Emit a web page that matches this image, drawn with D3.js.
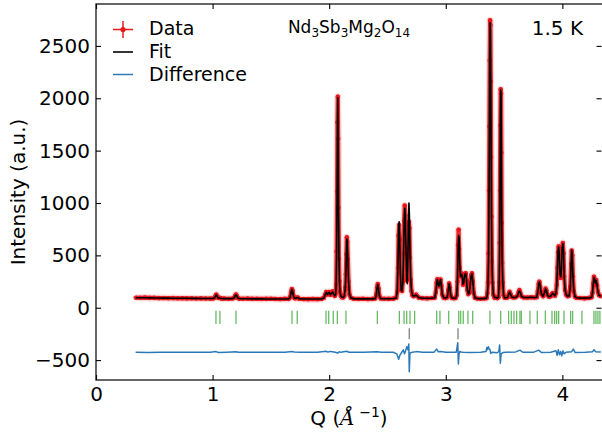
<!DOCTYPE html>
<html>
<head>
<meta charset="utf-8">
<script src="https://cdn.jsdelivr.net/npm/d3@7"></script>
<style>
  body { margin: 0; background: #fff; }
  svg { display: block; font-family: "DejaVu Sans", sans-serif; }
</style>
</head>
<body>
<svg id="chart" width="602" height="435"></svg>
<script>
// Q grid (1/Angstrom) of the measured points
var qValues = [
  0.34,0.38,0.42,0.46,0.50,0.54,0.58,0.62,0.66,0.70,0.74,0.78,0.82,0.86,0.90,0.94,0.98,
  1.005,1.018,1.026,1.032,1.039,1.048,1.058,1.066,1.078,
  1.10,1.14,1.17,
  1.185,1.194,1.201,1.208,1.216,1.228,
  1.26,1.30,1.34,1.38,1.42,1.46,1.50,1.54,1.58,1.62,
  1.652,1.665,1.673,1.680,1.686,1.693,1.702,1.712,1.722,1.731,1.742,
  1.78,1.82,1.86,1.90,1.935,
  1.955,1.965,1.975,1.985,1.993,2.001,2.010,2.020,2.030,2.040,2.048,
  2.055,2.060,2.064,2.068,2.071,2.074,2.077,2.080,2.084,2.088,2.093,2.100,2.110,2.120,
  2.130,2.138,2.143,2.147,2.151,2.155,2.160,2.166,2.174,2.186,
  2.21,2.25,2.29,2.33,2.37,
  2.395,2.404,2.411,2.417,2.423,2.430,2.442,
  2.47,2.51,2.55,
  2.575,2.584,2.590,2.595,2.600,2.605,2.611,2.618,2.625,2.632,2.638,2.643,2.648,2.653,2.659,
  2.665,2.670,2.675,2.680,2.684,2.688,2.693,2.699,2.706,2.714,2.724,2.735,2.745,2.756,2.770,
  2.80,2.84,2.88,
  2.905,2.915,2.922,2.928,2.934,2.941,2.948,2.955,2.962,2.970,2.982,
  2.995,
  3.012,3.022,3.029,3.035,3.042,3.052,
  3.07,3.085,
  3.094,3.100,3.105,3.110,3.115,3.120,3.126,3.131,3.136,3.142,3.148,3.154,3.160,3.166,3.172,
  3.178,3.185,3.193,3.202,3.210,3.218,3.225,3.232,3.240,3.250,
  3.27,3.30,3.33,
  3.350,3.357,3.362,3.367,3.371,3.374,3.377,3.380,3.383,3.386,3.389,3.392,3.396,3.401,3.408,3.418,3.430,3.442,
  3.452,3.458,3.462,3.465,3.468,3.471,3.474,3.477,3.480,3.484,3.489,3.496,3.505,3.515,
  3.530,3.540,3.547,3.555,3.565,3.58,3.60,3.615,3.625,3.632,3.640,3.650,3.67,3.70,3.73,3.76,
  3.780,3.790,3.797,3.803,3.810,3.820,3.835,3.848,3.856,3.863,3.872,3.885,3.900,3.910,3.918,3.926,3.936,
  3.945,3.952,3.958,3.963,3.968,3.973,3.979,3.986,3.992,3.998,4.004,4.010,4.016,4.023,4.032,4.045,
  4.058,4.068,4.075,4.080,4.085,4.091,4.098,4.108,4.12,
  4.15,4.19,4.23,4.25,
  4.258,4.265,4.271,4.277,4.283,4.290,4.297,4.305,4.315,4.330
];

// observed intensity (a.u.)
var observed = [
  96,95,97,94,94,92,93,91,92,90,91,89,90,88,89,88,87,
  88,96,116,125,110,94,96,92,87,
  88,86,88,
  95,117,127,112,93,87,
  86,87,85,86,84,85,86,84,83,85,
  84,100,150,178,165,115,92,90,96,98,86,
  83,82,84,82,85,
  95,125,150,128,135,150,122,135,156,125,112,
  130,220,540,1110,1770,2015,1615,955,465,255,150,112,100,98,
  112,190,320,510,672,630,465,250,125,95,
  86,84,86,83,85,
  88,125,195,226,185,115,88,
  86,85,87,
  95,150,380,690,790,650,330,170,160,250,520,830,975,880,520,
  260,270,560,790,820,760,480,270,160,120,110,115,125,110,95,
  92,90,93,
  96,150,240,272,225,205,245,270,210,125,96,
  92,
  98,170,232,195,120,94,
  90,94,
  120,250,600,745,560,380,300,300,328,290,220,240,300,325,328,
  260,170,130,140,230,310,328,250,140,95,
  88,86,88,
  92,140,240,520,1120,1730,2360,2745,2700,2160,1440,870,440,240,125,96,100,92,
  100,240,620,1120,1740,2085,2045,1480,810,430,240,120,95,96,
  98,130,152,130,102,98,100,115,150,168,140,108,98,97,100,98,
  100,160,230,248,200,130,110,150,182,165,120,105,110,130,140,125,115,
  140,220,380,530,585,500,330,285,380,560,618,520,300,170,125,110,
  115,200,420,545,500,300,160,105,95,
  93,90,94,100,
  140,230,296,270,230,265,215,150,120,110
];

// calculated (fit) intensity on the same grid
var calculated = [
  95,95,95,94,93,93,92,92,91,91,90,90,89,89,88,88,88,
  88,95,114,123,108,93,94,91,88,
  87,87,87,
  94,115,124,110,92,87,
  86,86,85,85,85,84,84,84,84,84,
  84,98,145,176,160,112,92,91,95,96,87,
  83,83,83,83,84,
  93,122,146,126,138,148,124,138,150,128,114,
  128,215,520,1090,1760,2005,1640,970,480,262,152,114,101,99,
  110,185,312,500,655,640,470,255,128,96,
  85,85,85,85,85,
  87,122,190,222,182,113,87,
  86,86,86,
  93,160,420,740,820,640,320,165,158,240,505,810,950,870,540,
  270,230,480,860,1000,880,530,280,165,122,110,114,122,110,96,
  91,91,91,
  95,148,230,268,228,208,242,268,212,128,96,
  93,
  97,165,228,198,122,94,
  91,93,
  118,240,510,690,670,420,305,300,320,292,225,238,298,322,326,
  262,172,132,142,228,305,325,252,142,96,
  87,87,87,
  92,130,210,480,1080,1740,2390,2720,2650,2180,1470,890,450,245,127,97,98,92,
  100,230,560,1080,1800,2080,2030,1490,830,440,242,122,96,96,
  98,128,150,132,103,98,99,113,148,160,142,108,98,98,99,98,
  100,155,225,246,205,132,110,148,180,167,122,105,110,128,138,127,116,
  138,215,390,545,580,520,320,295,370,570,610,530,290,175,125,110,
  114,195,410,550,505,290,170,106,96,
  92,92,93,98,
  135,225,290,272,235,260,218,152,118,108
];

// difference curve (shifted)
var diffQ = [
  0.34,0.45,0.55,0.70,0.85,0.98,1.03,1.05,1.12,1.20,1.22,1.35,1.50,1.62,1.68,1.70,1.75,1.90,
  1.975,1.99,2.005,2.03,2.06,2.072,2.085,2.10,2.15,2.17,2.30,2.41,2.45,2.55,
  2.58,2.596,2.607,2.62,2.636,2.646,2.655,2.666,2.676,2.683,2.687,2.693,2.71,2.75,2.80,2.90,
  2.922,2.935,2.955,3.00,3.09,3.103,3.108,3.114,3.12,3.13,3.15,3.20,3.30,
  3.345,3.352,3.358,3.365,3.372,3.38,3.386,3.40,3.44,3.455,3.462,3.468,3.475,3.49,3.52,
  3.60,3.636,3.66,3.75,3.797,3.82,3.90,3.945,3.955,3.965,3.975,3.985,3.995,4.005,4.015,4.03,
  4.08,4.094,4.11,4.20,4.26,4.271,4.285,4.33
];
var diffI = [
  -425,-427,-424,-426,-424,-426,-419,-427,-425,-421,-426,-424,-426,-425,-417,-423,-426,-425,
  -416,-424,-417,-420,-427,-434,-421,-426,-415,-425,-426,-421,-426,-425,
  -440,-492,-452,-430,-402,-440,-412,-372,-400,-346,-611,-432,-426,-419,-426,-424,
  -395,-420,-418,-426,-425,-334,-537,-440,-418,-423,-426,-427,-425,
  -418,-380,-400,-372,-392,-402,-436,-424,-430,-418,-355,-530,-440,-428,-425,
  -422,-405,-425,-426,-405,-428,-425,-410,-455,-402,-448,-418,-460,-412,-440,-426,
  -420,-395,-428,-426,-420,-400,-420,-423
];

// reflection positions (main phase, green) and second phase (grey)
var braggQ = [
  1.029,1.063,1.201,1.681,1.726,
  1.973,1.996,2.035,2.070,2.144,2.413,2.602,2.642,2.665,2.693,2.733,
  2.922,2.950,3.025,3.111,3.128,3.150,3.190,3.231,3.379,3.471,
  3.539,3.562,3.585,3.608,3.636,3.648,3.722,3.785,3.854,3.911,3.934,3.951,3.968,
  4.014,4.071,4.088,4.168,4.271,4.288,4.305,4.322
];
var braggQ2 = [2.687, 3.105];

var xTicks = [0, 1, 2, 3, 4];
var yTicks = [-500, 0, 500, 1000, 1500, 2000, 2500];

var margin = { left: 96, right: 0, top: 4, bottom: 55 },
  W = 602, H = 435;

var svg = d3.select("#chart");

var x = d3.scaleLinear().domain([0, 4.34]).range([margin.left, W - margin.right]);
var y = d3.scaleLinear().domain([-690, 2900]).range([H - margin.bottom, margin.top]);

svg.append("defs").append("clipPath").attr("id", "clip")
  .append("rect")
  .attr("x", x.range()[0]).attr("y", y.range()[1])
  .attr("width", x.range()[1] - x.range()[0])
  .attr("height", y.range()[0] - y.range()[1]);

var plot = svg.append("g").attr("clip-path", "url(#clip)");

var pts = qValues.map(function (q, i) { return { q: q, obs: observed[i], calc: calculated[i] }; });

var lineObs = d3.line().x(function (d) { return x(d.q); }).y(function (d) { return y(d.obs); });
var lineCalc = d3.line().x(function (d) { return x(d.q); }).y(function (d) { return y(d.calc); });

// data: faint halo (error bars) + dense marker band + markers
plot.append("path").datum(pts)
  .attr("d", lineObs)
  .attr("fill", "none")
  .attr("stroke", "#f08080")
  .attr("stroke-opacity", 0.3)
  .attr("stroke-width", 7)
  .attr("stroke-linejoin", "round");

plot.append("path").datum(pts)
  .attr("d", lineObs)
  .attr("fill", "none")
  .attr("stroke", "#e41a1c")
  .attr("stroke-opacity", 0.9)
  .attr("stroke-width", 4.2)
  .attr("stroke-linejoin", "round");

plot.append("g").selectAll("circle")
  .data(pts)
  .join("circle")
  .attr("cx", function (d) { return x(d.q); })
  .attr("cy", function (d) { return y(d.obs); })
  .attr("r", 2.3)
  .attr("fill", "#e8141c")
  .attr("fill-opacity", 0.9);

// fit
plot.append("path").datum(pts)
  .attr("d", lineCalc)
  .attr("fill", "none")
  .attr("stroke", "#000")
  .attr("stroke-width", 1.6)
  .attr("stroke-linejoin", "round");

// bragg ticks
plot.append("g").selectAll("line")
  .data(braggQ)
  .join("line")
  .attr("x1", function (d) { return x(d); })
  .attr("x2", function (d) { return x(d); })
  .attr("y1", y(-30))
  .attr("y2", y(-155))
  .attr("stroke", "#4daf4a")
  .attr("stroke-opacity", 0.85)
  .attr("stroke-width", 1.3);

plot.append("g").selectAll("line")
  .data(braggQ2)
  .join("line")
  .attr("x1", function (d) { return x(d); })
  .attr("x2", function (d) { return x(d); })
  .attr("y1", y(-195))
  .attr("y2", y(-302))
  .attr("stroke", "#808080")
  .attr("stroke-width", 1.3);

// difference
var diffPts = diffQ.map(function (q, i) { return [q, diffI[i]]; });
plot.append("path").datum(diffPts)
  .attr("d", d3.line().x(function (d) { return x(d[0]); }).y(function (d) { return y(d[1]); }))
  .attr("fill", "none")
  .attr("stroke", "#2a7ab9")
  .attr("stroke-width", 1.5)
  .attr("stroke-linejoin", "round");

// axes, ticks inward on all four sides
var fontAxis = 20;
var xAxis = svg.append("g")
  .attr("transform", "translate(0," + y.range()[0] + ")")
  .call(d3.axisBottom(x).tickValues(xTicks).tickSize(-5).tickPadding(7).tickFormat(d3.format("d")));
var yAxis = svg.append("g")
  .attr("transform", "translate(" + x.range()[0] + ",0)")
  .call(d3.axisLeft(y).tickValues(yTicks).tickSize(-5).tickPadding(6)
    .tickFormat(function (d) { return d < 0 ? "\u2212" + Math.abs(d) : d; }));
svg.append("g")
  .attr("transform", "translate(0," + y.range()[1] + ")")
  .call(d3.axisTop(x).tickValues(xTicks).tickSize(-5).tickFormat(""));
svg.append("g")
  .attr("transform", "translate(" + (x.range()[1] - 0.5) + ",0)")
  .call(d3.axisRight(y).tickValues(yTicks).tickSize(-5).tickFormat(""));

svg.selectAll(".domain").remove();
svg.selectAll(".tick line").attr("stroke", "#000").attr("stroke-width", 1.1);
[xAxis, yAxis].forEach(function (a) {
  a.selectAll("text")
    .attr("font-size", fontAxis)
    .attr("font-family", "DejaVu Sans")
    .attr("fill", "#000");
});

svg.append("rect")
  .attr("x", x.range()[0]).attr("y", y.range()[1])
  .attr("width", x.range()[1] - x.range()[0] + 2)
  .attr("height", y.range()[0] - y.range()[1])
  .attr("fill", "none")
  .attr("stroke", "#000")
  .attr("stroke-width", 1.2);

// axis labels
var xl = svg.append("text")
  .attr("x", (x.range()[0] + x.range()[1]) / 2)
  .attr("y", 425)
  .attr("text-anchor", "middle")
  .attr("font-size", 20);
xl.append("tspan").text("Q (");
xl.append("tspan").attr("font-style", "italic").attr("font-family", "DejaVu Serif").text("\u00C5");
xl.append("tspan").attr("font-size", 14).attr("dy", -8).text(" \u22121");
xl.append("tspan").attr("dy", 8).text(")");

svg.append("text")
  .attr("transform", "translate(25," + ((y.range()[0] + y.range()[1]) / 2) + ") rotate(-90)")
  .attr("text-anchor", "middle")
  .attr("font-size", 20)
  .text("Intensity (a.u.)");

// compound name and temperature
var title = svg.append("text")
  .attr("x", (x.range()[0] + x.range()[1]) / 2)
  .attr("y", 33)
  .attr("text-anchor", "middle")
  .attr("font-size", 17);
[["Nd", "3"], ["Sb", "3"], ["Mg", "2"], ["O", "14"]].forEach(function (p, i) {
  title.append("tspan").attr("dy", i === 0 ? 0 : -4).text(p[0]);
  title.append("tspan").attr("font-size", 12).attr("dy", 4).text(p[1]);
});

svg.append("text")
  .attr("x", 583).attr("y", 35)
  .attr("text-anchor", "end")
  .attr("font-size", 20)
  .text("1.5 K");

// legend
var lg = svg.append("g");
lg.append("line").attr("x1", 113).attr("x2", 133).attr("y1", 29.5).attr("y2", 29.5)
  .attr("stroke", "#e41a1c").attr("stroke-width", 1.5);
lg.append("line").attr("x1", 123).attr("x2", 123).attr("y1", 21).attr("y2", 38)
  .attr("stroke", "#e41a1c").attr("stroke-width", 1.5);
lg.append("circle").attr("cx", 123).attr("cy", 29.5).attr("r", 2.6).attr("fill", "#e8141c");
lg.append("line").attr("x1", 113).attr("x2", 133).attr("y1", 52).attr("y2", 52)
  .attr("stroke", "#000").attr("stroke-width", 1.6);
lg.append("line").attr("x1", 113).attr("x2", 133).attr("y1", 74.5).attr("y2", 74.5)
  .attr("stroke", "#2a7ab9").attr("stroke-width", 1.5);
[["Data", 35], ["Fit", 58], ["Difference", 81]].forEach(function (d) {
  lg.append("text").attr("x", 149).attr("y", d[1]).attr("font-size", 19).text(d[0]);
});
</script>
</body>
</html>
